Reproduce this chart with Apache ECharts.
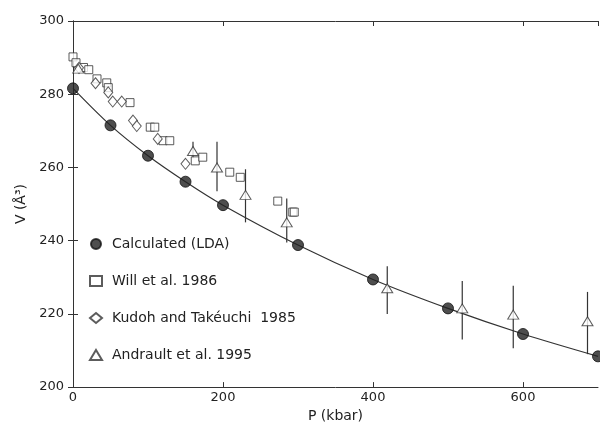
<!DOCTYPE html>
<html><head><meta charset="utf-8">
<script src="https://cdn.jsdelivr.net/npm/echarts@6/dist/echarts.min.js"></script>
<style>html,body{margin:0;padding:0;background:#fff}#c{width:600px;height:428px}</style>
</head><body><div id="c"></div>
<script>
// Calculated (LDA): [P kbar, V Å^3]
const calcData = [[0,281.6],[50,271.5],[100,263.2],[150,256.1],[200,249.7],[300,238.8],[400,229.4],[500,221.5],[600,214.5],[700,208.4]];
// Will et al. 1986
const willData = [[0,290.2],[4,288.6],[14,287.3],[21,286.7],[32,284.2],[45,283.1],[47,281.8],[76,277.7],[103,271],[109,271],[120,267.3],[129,267.3],[163,261.8],[173,262.8],[209,258.7],[223,257.3],[273,250.8],[293,247.8],[295,247.8]];
// Kudoh and Takéuchi 1985
const kudohData = [[8,287.2],[30,283],[47,280.5],[53,278],[65,278],[80,272.8],[85,271.3],[113,267.8],[150,261]];
// Andrault et al. 1995: [P, V, low, high]
const andraultData = [[7,287,287,287],[160,264.5,262.5,267],[192,260,253.5,267],[230,252.5,245,259.5],[285,245,239.5,251.5],[419,227,220,233],[519,221.5,213,229],[587,219.8,210.6,227.7],[686,218,209,226]];
const xTicks = [0,200,400,600];
const yTicks = [200,220,240,260,280,300];
const legendNames = ['Calculated (LDA)','Will et al. 1986','Kudoh and Takéuchi  1985','Andrault et al. 1995'];

const font = 'DejaVu Sans';
const txt = '#222';
const chart = echarts.init(document.getElementById('c'), null, {renderer:'canvas'});
const axisLine = {show:true, lineStyle:{color:'#333', width:1}};
const tick = {show:true, inside:true, length:5, lineStyle:{color:'#333'}};
chart.setOption({
  animation:false,
  backgroundColor:'#fff',
  grid:{left:73, right:2, top:21, bottom:39},
  legend:{
    orient:'vertical', left:84, top:232, itemGap:23, itemWidth:12, itemHeight:10,
    textStyle:{fontFamily:font, fontSize:14, color:txt, padding:[0,0,0,5]},
    data:[
      {name:legendNames[0], icon:'circle'},
      {name:legendNames[1], icon:'rect'},
      {name:legendNames[2], icon:'diamond'},
      {name:legendNames[3], icon:'triangle'}
    ]
  },
  xAxis:[{
    type:'value', min:0, max:700, interval:200, position:'bottom',
    name:'P (kbar)', nameLocation:'middle', nameGap:15,
    nameTextStyle:{fontFamily:font, fontSize:14, color:txt},
    axisLine:axisLine, axisTick:tick,
    axisLabel:{fontFamily:font, fontSize:13, color:txt, margin:4, showMaxLabel:false,
      formatter:v=> xTicks.includes(v)? String(v):''},
    splitLine:{show:false}
  },{
    type:'value', min:0, max:700, interval:200, position:'top',
    axisLine:axisLine, axisTick:tick,
    axisLabel:{show:false}, splitLine:{show:false}
  }],
  yAxis:[{
    type:'value', min:200, max:300, interval:20, position:'left',
    name:'V (Å³)', nameLocation:'middle', nameGap:44, nameRotate:90,
    nameTextStyle:{fontFamily:font, fontSize:14, color:txt},
    axisLine:axisLine, axisTick:tick,
    axisLabel:{fontFamily:font, fontSize:13, color:txt, margin:9,
      formatter:v=> yTicks.includes(v)? String(v):''},
    splitLine:{show:false}
  },{
    type:'value', min:200, max:300, interval:20, position:'right',
    axisLine:axisLine, axisTick:tick,
    axisLabel:{show:false}, splitLine:{show:false}
  }],
  series:[
    {type:'line', data:calcData, smooth:0.3, showSymbol:false, symbol:'none',
     lineStyle:{color:'#333', width:1.2}, z:1, silent:true},
    {type:'custom', name:'errbars', z:2,
     renderItem:function(params, api){
       const lo = api.coord([api.value(0), api.value(2)]);
       const hi = api.coord([api.value(0), api.value(3)]);
       return {type:'line', shape:{x1:lo[0], y1:lo[1], x2:hi[0], y2:hi[1]},
               style:{stroke:'#333', lineWidth:1.2}};
     },
     encode:{x:0, y:[2,3]},
     data:andraultData},
    {type:'scatter', name:legendNames[0], data:calcData, symbol:'circle', symbolSize:11,
     itemStyle:{color:'#222', borderColor:'#111', borderWidth:1}, z:5},
    {type:'scatter', name:legendNames[1], data:willData, symbol:'rect', symbolSize:8,
     itemStyle:{color:'#fff', borderColor:'#333', borderWidth:1}, z:4},
    {type:'scatter', name:legendNames[2], data:kudohData, symbol:'diamond', symbolSize:[9,11],
     itemStyle:{color:'#fff', borderColor:'#333', borderWidth:1}, z:4},
    {type:'scatter', name:legendNames[3], data:andraultData.map(d=>[d[0],d[1]]), symbol:'triangle', symbolSize:[11,9],
     itemStyle:{color:'#fff', borderColor:'#333', borderWidth:1}, z:4}
  ]
});
</script></body></html>
